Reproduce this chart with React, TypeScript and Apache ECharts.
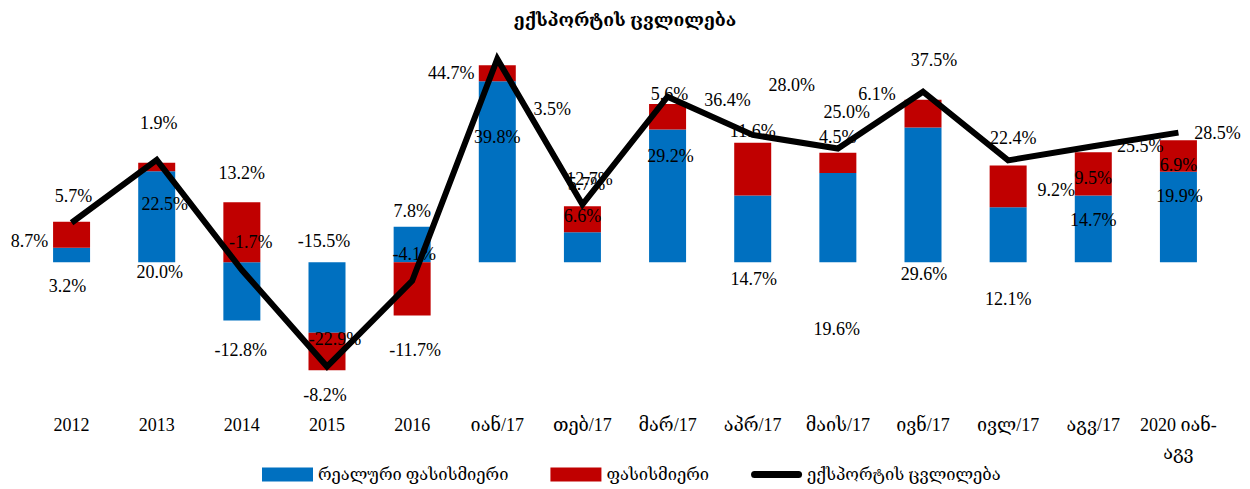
import React, { useEffect, useRef } from 'react';
import * as echarts from 'echarts';

const categories = ['2012', '2013', '2014', '2015', '2016', 'იან/17', 'თებ/17', 'მარ/17', 'აპრ/17', 'მაის/17', 'ივნ/17', 'ივლ/17', 'აგვ/17', '2020 იან-\nაგვ'];
const realValues = [3.2, 20.0, -12.8, -15.5, 7.8, 39.8, 6.6, 29.2, 14.7, 19.6, 29.6, 12.1, 14.7, 19.9];
const priceValues = [5.7, 1.9, 13.2, -8.2, -11.7, 3.5, 5.7, 5.6, 11.6, 4.5, 6.1, 9.2, 9.5, 6.9];
const exportChange = [8.7, 22.5, -1.7, -22.9, -4.1, 44.7, 12.7, 36.4, 28.0, 25.0, 37.5, 22.4, 25.5, 28.5];

const titleText = 'ექსპორტის ცვლილება';
const seriesNames = ['რეალური ფასისმიერი', 'ფასისმიერი', 'ექსპორტის ცვლილება'];

// label nudges (pixels) relative to each label's default anchor
const realLabelOffsets = [[-4, 31], [3, 55], [-1, 59], [-3, -57], [0, -34], [0, -35], [0, -31], [3, -40], [1, 50], [-1, 111], [1, 79], [0, 64], [0, -9], [1, -21]];
const priceLabelOffsets = [[2, -39], [2, -44], [0, -59], [-2, 44], [3, 61], [55, 36], [4, -35], [2, -23], [0, -38], [0, -26], [-46, -20], [48, 4], [0, 4], [0, 9]];
const lineLabelOffsets = [[-42, 18], [8, 44], [9, -28], [8, -27], [2, -27], [-46, 14], [7, -26], [60, 3], [39, -50], [9, -37], [11, -32], [5, -22], [47, 0], [39, 0]];

const FONT = "'Liberation Serif', 'DejaVu Serif', serif";
const BLUE = '#0070C0';
const RED = '#C00000';

const withOffsets = (values: number[], offsets: number[][]) =>
  values.map((v, i) => ({ value: v, label: { offset: offsets[i] } }));

const labelBase = {
  show: true,
  position: 'inside',
  color: '#000',
  fontSize: 18,
  fontFamily: FONT,
  formatter: (p: any) => Number(p.value).toFixed(1) + '%',
};

export default function App() {
  const ref = useRef<HTMLDivElement>(null);
  useEffect(() => {
    if (!ref.current) return;
    const chart = echarts.init(ref.current, undefined, { renderer: 'svg' });
    chart.setOption({
      animation: false,
      backgroundColor: '#fff',
      title: {
        text: titleText,
        left: 'center',
        top: 6,
        textStyle: { fontSize: 17.6, fontWeight: 'bold', color: '#000', fontFamily: FONT },
      },
      grid: { left: 29, right: 29, top: 34.8, bottom: 90.2, containLabel: false },
      legend: {
        left: 257,
        top: 461,
        itemWidth: 51,
        itemHeight: 14,
        itemGap: 42,
        textStyle: { fontSize: 16.5, color: '#000', fontFamily: FONT },
        data: [
          { name: seriesNames[0], icon: 'rect' },
          { name: seriesNames[1], icon: 'rect' },
          { name: seriesNames[2], icon: 'path://M3.5,0H47.5A3.5,3.5,0,0,1,47.5,7H3.5A3.5,3.5,0,0,1,3.5,0Z' },
        ],
      },
      xAxis: {
        type: 'category',
        data: categories,
        axisLine: { show: false },
        axisTick: { show: false },
        splitLine: { show: false },
        axisLabel: { interval: 0, margin: 12, fontSize: 18, color: '#000', fontFamily: FONT, lineHeight: 28 },
      },
      yAxis: { type: 'value', min: -30, max: 50, show: false },
      series: [
        {
          name: seriesNames[0],
          type: 'bar',
          stack: 'total',
          barWidth: 37,
          itemStyle: { color: BLUE },
          label: labelBase,
          data: withOffsets(realValues, realLabelOffsets),
        },
        {
          name: seriesNames[1],
          type: 'bar',
          stack: 'total',
          barWidth: 37,
          itemStyle: { color: RED },
          label: labelBase,
          data: withOffsets(priceValues, priceLabelOffsets),
        },
        {
          name: seriesNames[2],
          type: 'line',
          symbol: 'circle',
          symbolSize: 0,
          showSymbol: true,
          itemStyle: { color: '#000' },
          lineStyle: { color: '#000', width: 6, join: 'miter' },
          label: labelBase,
          z: 3,
          data: withOffsets(exportChange, lineLabelOffsets),
        },
      ],
    });
    return () => chart.dispose();
  }, []);
  return <div ref={ref} style={{ position: 'fixed', left: 0, top: 0, width: 1250, height: 489 }} />;
}
